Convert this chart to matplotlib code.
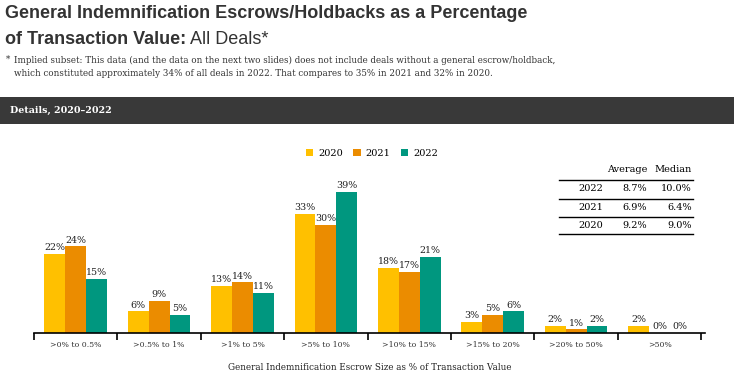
import numpy as np
import matplotlib
matplotlib.use("Agg")
import matplotlib.pyplot as plt
from matplotlib.patches import Patch, Rectangle
from matplotlib.lines import Line2D

# chart data
categories = [">0% to 0.5%", ">0.5% to 1%", ">1% to 5%", ">5% to 10%",
              ">10% to 15%", ">15% to 20%", ">20% to 50%", ">50%"]
years = ["2020", "2021", "2022"]
vals_2020 = [22, 6, 13, 33, 18, 3, 2, 2]
vals_2021 = [24, 9, 14, 30, 17, 5, 1, 0]
vals_2022 = [15, 5, 11, 39, 21, 6, 2, 0]
colors = ["#FFC000", "#EB8C00", "#00977F"]

# summary table
table_years = ["2022", "2021", "2020"]
table_avg = ["8.7%", "6.9%", "9.2%"]
table_med = ["10.0%", "6.4%", "9.0%"]

W, H = 734, 374
fig = plt.figure(figsize=(W / 100, H / 100), dpi=100)

def fx(px):
    return px / W

def fy(py):
    return 1 - py / H

serif = "DejaVu Serif"
sans = "Liberation Sans"
dark = "#333333"

# title
fig.text(fx(5), fy(13), "General Indemnification Escrows/Holdbacks as a Percentage",
         fontsize=13, fontweight="bold", family=sans, color=dark, va="center")
t2 = fig.text(fx(5), fy(40), "of Transaction Value:", fontsize=13,
              fontweight="bold", family=sans, color=dark, va="center")
fig.canvas.draw()
bb = t2.get_window_extent()
fig.text(bb.x1 / W, fy(40), " All Deals*", fontsize=13, family=sans,
         color=dark, va="center")

# footnote
fig.text(fx(6), fy(59), "*", fontsize=6.3, family=serif, color=dark, va="center")
fig.text(fx(14), fy(60),
         "Implied subset: This data (and the data on the next two slides) does not include deals without a general escrow/holdback,",
         fontsize=6.3, family=serif, color=dark, va="center")
fig.text(fx(14), fy(73),
         "which constituted approximately 34% of all deals in 2022. That compares to 35% in 2021 and 32% in 2020.",
         fontsize=6.3, family=serif, color=dark, va="center")

# dark band
fig.patches.append(Rectangle((0, fy(124)), 1, (124 - 97) / H, transform=fig.transFigure,
                             facecolor="#393939", edgecolor="none"))
fig.text(fx(10), fy(110), "Details, 2020\u20132022", fontsize=6.8, fontweight="bold",
         family=serif, color="white", va="center")

# bar chart
unit = 83.4
ax = fig.add_axes([fx(34), fy(333), 8.05 * unit / W, 45 * 3.61 / H])
x = np.arange(len(categories))
bw = 0.25
series = [vals_2020, vals_2021, vals_2022]
for i, (vals, c) in enumerate(zip(series, colors)):
    pos = x + (i - 1) * bw
    ax.bar(pos, vals, width=bw, color=c, label=years[i])
    for p, v in zip(pos, vals):
        ax.text(p, v + 0.5, f"{v}%", ha="center", va="bottom", fontsize=6.8,
                family=serif, color="#222222")

ax.set_xlim(-0.5, 7.55)
ax.set_ylim(0, 45)
ax.set_yticks([])
for s in ["top", "right", "left"]:
    ax.spines[s].set_visible(False)
ax.spines["bottom"].set_color("black")
ax.spines["bottom"].set_linewidth(1.2)
ax.set_xticks(x)
ax.set_xticklabels(categories, fontsize=5.6, family=serif, color=dark)
ax.tick_params(axis="x", which="major", length=0, pad=6)
ax.set_xticks(np.arange(-0.5, 8, 1), minor=True)
ax.tick_params(axis="x", which="minor", length=5, width=1.2, color="black")
ax.set_xlabel("General Indemnification Escrow Size as % of Transaction Value",
              fontsize=6.3, family=serif, color="#222222", labelpad=10)

# legend
handles = [Patch(facecolor=c, edgecolor="none") for c in colors]
fig.legend(handles, years, loc="center", bbox_to_anchor=(fx(372), fy(153)),
           ncol=3, frameon=False, prop={"family": serif, "size": 7},
           handlelength=0.75, handleheight=0.75, handletextpad=0.5,
           columnspacing=1.1)

# table
fig.text(fx(647), fy(169), "Average", ha="right", va="center", fontsize=7,
         family=serif, color="black")
fig.text(fx(692), fy(169), "Median", ha="right", va="center", fontsize=7,
         family=serif, color="black")
line_y = [180, 198.5, 216.5, 234]
for ly in line_y:
    fig.add_artist(Line2D([fx(559), fx(693)], [fy(ly), fy(ly)], color="black",
                          linewidth=1.0, transform=fig.transFigure))
row_y = [188.5, 207, 225]
for ry, yr, av, md in zip(row_y, table_years, table_avg, table_med):
    fig.text(fx(603), fy(ry), yr, ha="right", va="center", fontsize=7,
             family=serif, color="black")
    fig.text(fx(647), fy(ry), av, ha="right", va="center", fontsize=7,
             family=serif, color="black")
    fig.text(fx(692), fy(ry), md, ha="right", va="center", fontsize=7,
             family=serif, color="black")

fig.savefig("out.png", dpi=100)
